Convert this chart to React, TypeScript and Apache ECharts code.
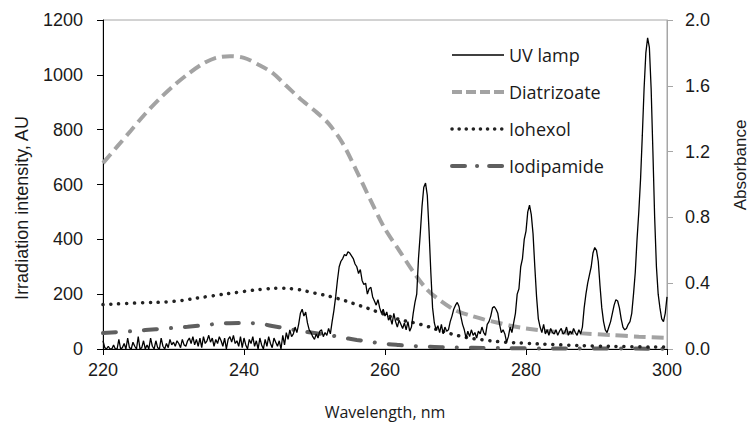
import React, { useEffect, useRef } from "react";
import * as echarts from "echarts";

// UV lamp irradiation intensity (AU), sampled every 0.25 nm from 220 nm
const uvStart = 220;
const uvStep = 0.25;
const uvLamp = [
  30, 5, 0, 10,
  0, 0, 15, 0,
  0, 35, 0, 5,
  20, 0, 40, 5,
  0, 25, 10, 0,
  45, 0, 5, 30,
  0, 15, 0, 40,
  10, 0, 30, 5,
  0, 40, 10, 0,
  20, 5, 35, 15,
  25, 10, 30, 20,
  5, 35, 15, 10,
  30, 40, 20, 45,
  15, 35, 10, 40,
  5, 45, 20, 30,
  50, 25, 40, 10,
  35, 20, 45, 30,
  10, 40, 0, 35,
  45, 25, 50, 20,
  30, 10, 45, 5,
  40, 15, 0, 35,
  20, 45, 10, 30,
  0, 40, 15, 0,
  35, 10, 45, 20,
  5, 40, 25, 10,
  30, 0, 50, 15,
  60, 35, 70, 45,
  55, 80, 60, 90,
  130, 145, 120, 135,
  95, 70, 60, 45,
  35, 55, 40, 65,
  70, 45, 60, 50,
  75, 55, 100, 140,
  190, 250, 300, 320,
  330, 345, 340, 355,
  350, 340, 330, 310,
  300, 275, 290, 250,
  235, 240, 200, 220,
  225, 190, 175, 160,
  180, 150, 130, 145,
  120, 135, 105, 115,
  90, 130, 100, 80,
  105, 90, 75, 95,
  70, 100, 65, 80,
  130, 170, 200, 330,
  420, 520, 590, 605,
  560, 430, 280, 150,
  95, 70, 85, 60,
  90, 55, 80, 65,
  70, 100, 120, 145,
  160, 170, 155, 120,
  90, 70, 40, 65,
  45, 70, 50, 60,
  40, 65, 55, 80,
  60, 50, 90, 100,
  120, 150, 155, 145,
  130, 90, 60, 70,
  55, 25, 45, 80,
  60, 95, 130, 200,
  220, 300, 330, 400,
  430, 500, 525, 490,
  420, 300, 190, 110,
  80, 60, 90, 55,
  70, 50, 75, 60,
  55, 70, 50, 65,
  75, 55, 60, 80,
  50, 65, 55, 75,
  60, 50, 70, 55,
  80, 150, 200, 240,
  270, 300, 350, 370,
  360, 320, 230, 150,
  100, 70, 60, 80,
  100, 130, 160, 180,
  175, 150, 110, 80,
  70, 75, 90, 100,
  130, 200, 280, 400,
  500, 620, 780, 950,
  1080, 1135, 1100, 950,
  720, 480, 300, 200,
  150, 110, 100, 130,
  190,
];

// Absorbance curves
const diaWl = [220, 222, 224, 226, 228, 230, 232, 234, 236, 238, 240, 242, 244, 246, 248, 250, 252, 254, 256, 258, 260, 262, 264, 266, 268, 270, 272, 274, 276, 278, 280, 284, 288, 292, 296, 300];
const diaAbs = [1.13, 1.23, 1.33, 1.43, 1.52, 1.6, 1.67, 1.73, 1.77, 1.78, 1.77, 1.73, 1.68, 1.6, 1.52, 1.45, 1.37, 1.25, 1.08, 0.9, 0.73, 0.6, 0.47, 0.36, 0.29, 0.235, 0.205, 0.18, 0.16, 0.14, 0.125, 0.105, 0.095, 0.085, 0.075, 0.068];

const iohWl = [220, 225, 230, 235, 240, 243, 245, 247, 250, 253, 256, 259, 262, 265, 268, 271, 274, 277, 280, 285, 290, 295, 300];
const iohAbs = [0.27, 0.28, 0.29, 0.32, 0.35, 0.365, 0.37, 0.365, 0.34, 0.31, 0.27, 0.225, 0.18, 0.15, 0.11, 0.075, 0.055, 0.042, 0.035, 0.025, 0.018, 0.014, 0.012];

const iodWl = [220, 223, 226, 229, 232, 235, 238, 240, 242, 244, 246, 248, 250, 252, 254, 256, 258, 260, 262, 264, 266, 268, 270, 275, 280, 290, 300];
const iodAbs = [0.097, 0.105, 0.115, 0.125, 0.135, 0.148, 0.157, 0.158, 0.155, 0.14, 0.125, 0.11, 0.097, 0.085, 0.07, 0.055, 0.043, 0.032, 0.024, 0.018, 0.014, 0.011, 0.009, 0.006, 0.004, 0.003, 0.002];

const leftTicks = [0, 200, 400, 600, 800, 1000, 1200];
const rightTicks = [0, 0.4, 0.8, 1.2, 1.6, 2.0];
const xTicks = [220, 240, 260, 280, 300];

const zip = (xs: number[], ys: number[]) => xs.map((x, i) => [x, ys[i]]);

export default function App() {
  const ref = useRef<HTMLDivElement>(null);
  useEffect(() => {
    document.body.style.margin = "0";
    if (!ref.current) return;
    const chart = echarts.init(ref.current, undefined, { renderer: "svg" });
    const uvData = uvLamp.map((v, i) => [uvStart + i * uvStep, v]);
    const tickFont = { fontFamily: "Liberation Sans", fontSize: 18, color: "#1a1a1a" };
    const uvLine = { color: "#000", width: 1.3 };
    const diaLine = { color: "#a3a3a3", width: 4, type: [12, 6] };
    const iohLine = { color: "#222", width: 3.5, type: [0.1, 7.8], cap: "round" };
    const iodLine = { color: "#5f5f5f", width: 4, type: [13, 14, 0.1, 14], cap: "round" };
    chart.setOption({
      animation: false,
      backgroundColor: "#ffffff",
      grid: {
        left: 103,
        right: 83,
        top: 20,
        bottom: 86,
        show: true,
        borderColor: "#a6a6a6",
        borderWidth: 1,
        backgroundColor: "transparent",
      },
      legend: {
        orient: "vertical",
        left: 450,
        top: 46,
        padding: 0,
        itemWidth: 52,
        itemHeight: 14,
        itemGap: 19,
        itemStyle: { opacity: 0 },
        textStyle: { fontFamily: "Open Sans", fontSize: 18, color: "#1a1a1a", lineHeight: 18 },
        data: [
          { name: "UV lamp", lineStyle: uvLine },
          { name: "Diatrizoate", lineStyle: { ...diaLine, type: [10, 4] } },
          { name: "Iohexol", lineStyle: { ...iohLine, type: [0.1, 7] } },
          { name: "Iodipamide", lineStyle: { ...iodLine, type: [13, 12, 0.1, 12] } },
        ],
      },
      xAxis: {
        type: "value",
        min: xTicks[0],
        max: xTicks[xTicks.length - 1],
        interval: 20,
        axisLine: { lineStyle: { color: "#000", width: 1 } },
        axisTick: { show: true, length: 6, lineStyle: { color: "#000" } },
        axisLabel: { ...tickFont, margin: 12 },
        splitLine: { show: false },
      },
      yAxis: [
        {
          type: "value",
          min: leftTicks[0],
          max: leftTicks[leftTicks.length - 1],
          interval: 200,
          axisLine: { show: true, lineStyle: { color: "#000", width: 1 } },
          axisTick: { show: true, length: 6, lineStyle: { color: "#000" } },
          axisLabel: { ...tickFont, margin: 20, formatter: (v: number) => String(v) },
          splitLine: { show: false },
        },
        {
          type: "value",
          position: "right",
          min: rightTicks[0],
          max: rightTicks[rightTicks.length - 1],
          interval: 0.4,
          axisLine: { show: true, lineStyle: { color: "#a6a6a6", width: 1 } },
          axisTick: { show: true, length: 6, lineStyle: { color: "#a6a6a6" } },
          axisLabel: { ...tickFont, margin: 18, formatter: (v: number) => v.toFixed(1) },
          splitLine: { show: false },
        },
      ],
      graphic: [
        {
          type: "text",
          x: 22,
          y: 208,
          rotation: Math.PI / 2,
          style: {
            text: "Irradiation intensity, AU",
            fontFamily: "Liberation Sans",
            fontSize: 18,
            fill: "#1a1a1a",
            textAlign: "center",
            textVerticalAlign: "middle",
          },
        },
        {
          type: "text",
          x: 740,
          y: 165,
          rotation: Math.PI / 2,
          style: {
            text: "Absorbance",
            fontFamily: "Liberation Sans",
            fontSize: 17,
            fill: "#1a1a1a",
            textAlign: "center",
            textVerticalAlign: "middle",
          },
        },
        {
          type: "text",
          x: 385,
          y: 412,
          style: {
            text: "Wavelength, nm",
            fontFamily: "Open Sans",
            fontSize: 16,
            fill: "#1a1a1a",
            textAlign: "center",
            textVerticalAlign: "middle",
          },
        },
      ],
      series: [
        {
          name: "UV lamp",
          type: "line",
          yAxisIndex: 0,
          data: uvData,
          symbol: "none",
          z: 5,
          color: "#000",
          lineStyle: uvLine,
        },
        {
          name: "Diatrizoate",
          type: "line",
          yAxisIndex: 1,
          data: zip(diaWl, diaAbs),
          symbol: "none",
          smooth: 0.3,
          z: 3,
          color: "#a3a3a3",
          lineStyle: diaLine,
        },
        {
          name: "Iohexol",
          type: "line",
          yAxisIndex: 1,
          data: zip(iohWl, iohAbs),
          symbol: "none",
          smooth: true,
          z: 4,
          color: "#222",
          lineStyle: iohLine,
        },
        {
          name: "Iodipamide",
          type: "line",
          yAxisIndex: 1,
          data: zip(iodWl, iodAbs),
          symbol: "none",
          smooth: true,
          z: 3,
          color: "#5f5f5f",
          lineStyle: iodLine,
        },
      ],
    });
    return () => chart.dispose();
  }, []);
  return <div ref={ref} style={{ width: 750, height: 435 }} />;
}
